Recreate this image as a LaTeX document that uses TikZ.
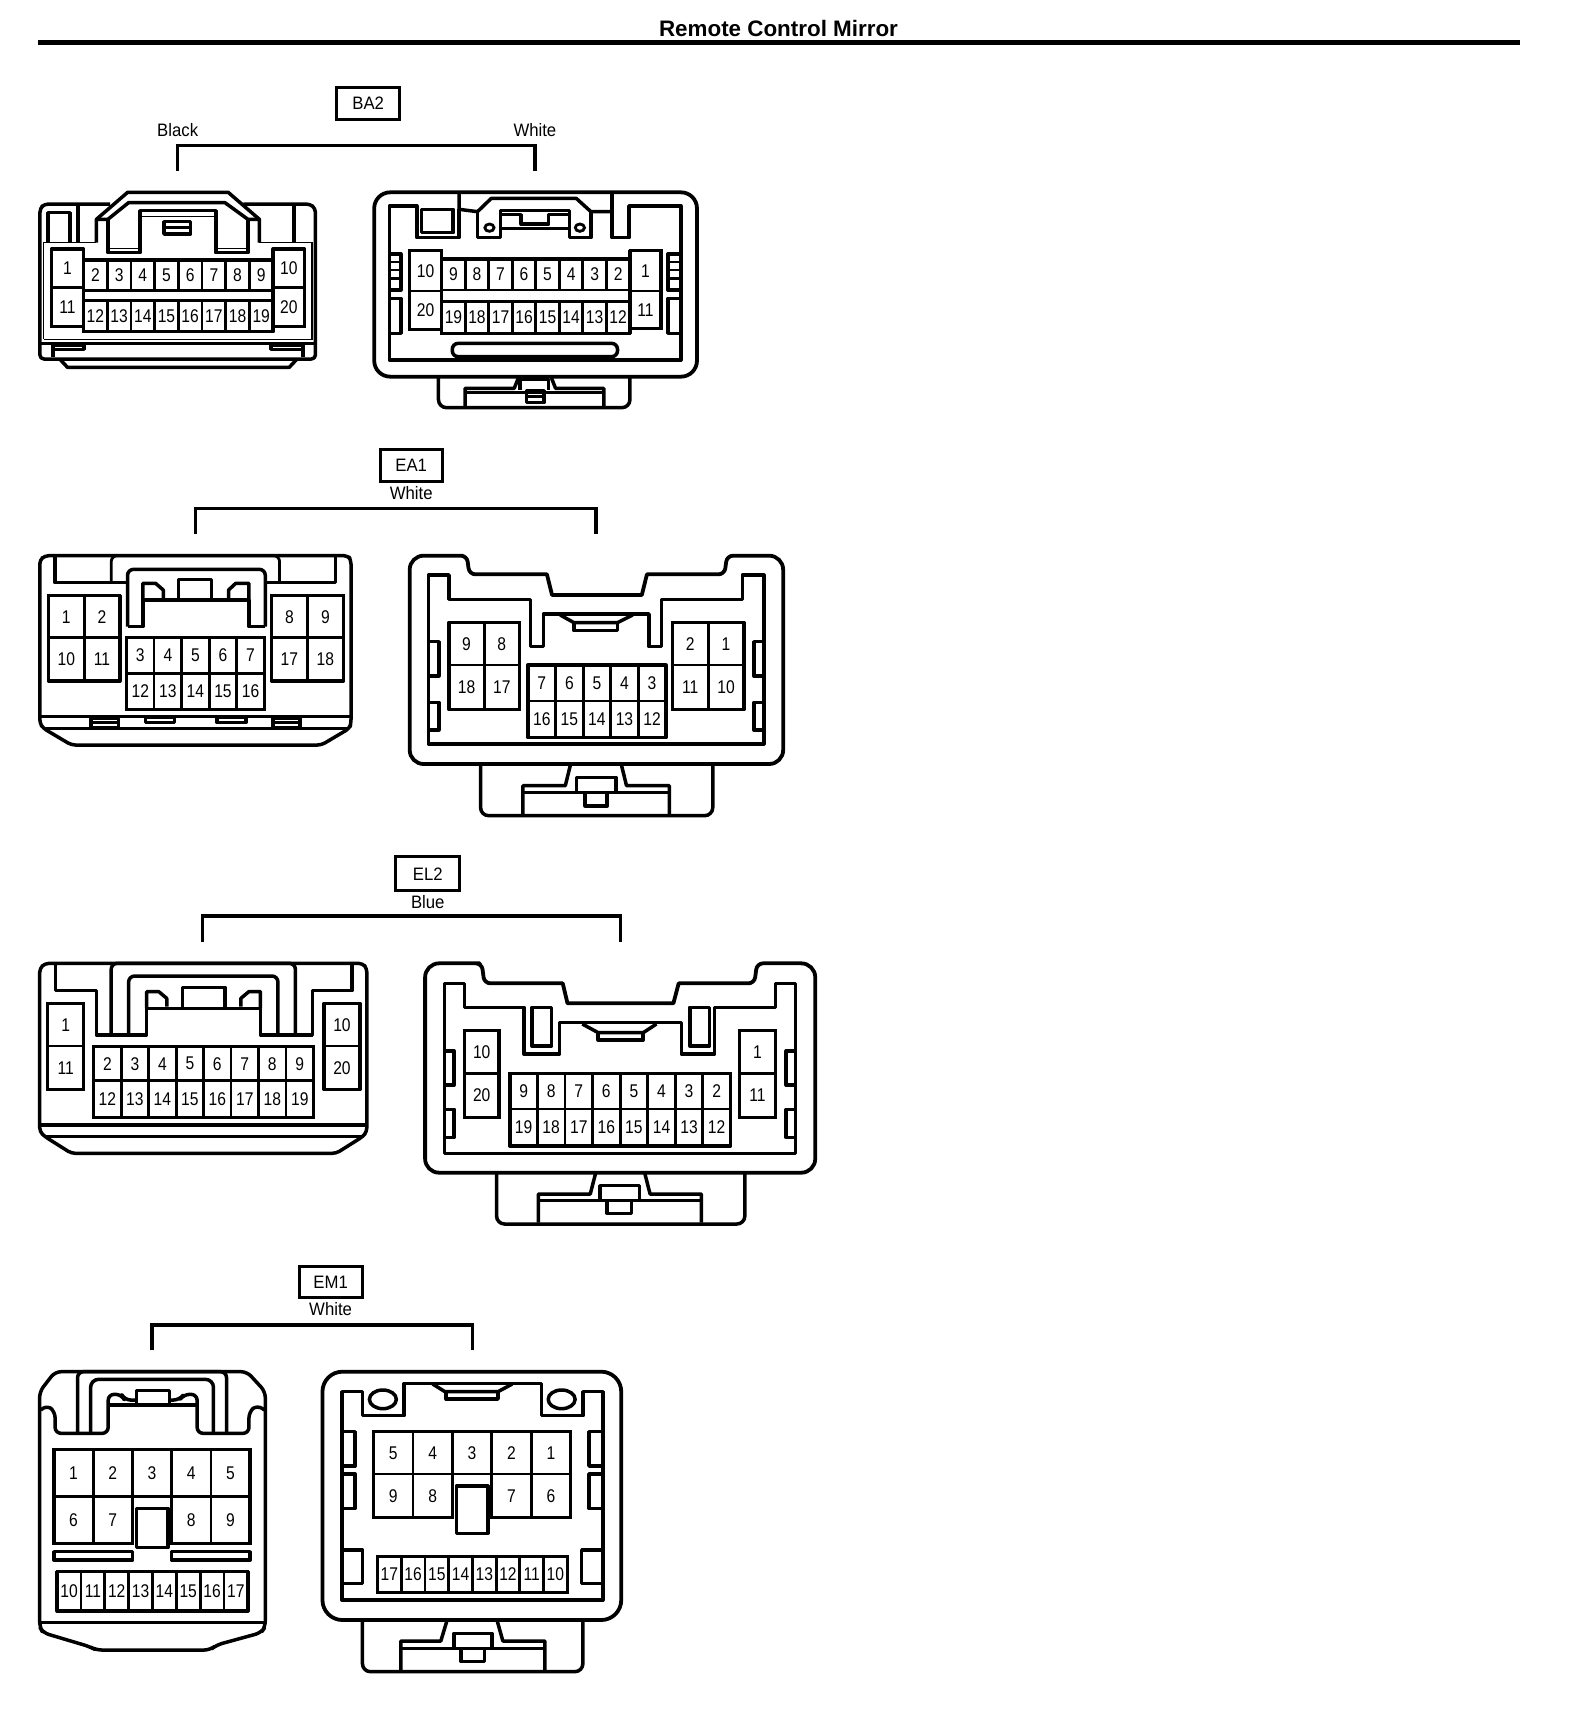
\documentclass[tikz,border=0pt]{standalone}
\usepackage{fontspec}
\setmainfont{Liberation Sans}
\tikzset{
  wall/.style={line width=1.75pt,line join=round},
  rim/.style={line width=1.9pt,line join=round},
  fine/.style={line width=0.8pt},
  cell/.style={line width=1.4pt},
  bracket/.style={line width=1.7pt},
  tagbox/.style={line width=1.5pt},
  numlab/.style={font=\fontsize{9.2}{9}\selectfont,inner sep=0pt,xscale=.85,transform shape},
  textlab/.style={font=\fontsize{9}{9}\selectfont,inner sep=0pt,xscale=.93,transform shape},
  rowba/.style={x=0.22957pt,y=-0.16667pt,yshift=-30pt},
  rowea/.style={x=0.2551pt,y=-0.16667pt,yshift=-220pt},
  rowel/.style={x=0.26469pt,y=-0.16667pt,yshift=-425pt},
  rowem/.style={x=0.20408pt,y=-0.16667pt,yshift=-630pt},
}
% name, left, cell width, top, bottom, labels
\newcommand{\pinrow}[6]{%
  \foreach \lab [count=\n from 0] in {#6} {
    \draw[cell] ({#2+\n*#3},#4) rectangle ({#2+(\n+1)*#3},#5);
    \node[numlab] (#1-\lab) at ({#2+(\n+.5)*#3},{(#4+#5)/2}) {\lab};
  }}
\begin{document}
\begin{tikzpicture}[x=0.5pt,y=-0.5pt]
  \useasboundingbox (0,0) rectangle (1568,1712);
  \node[inner sep=0pt,font=\fontsize{11.2}{12}\selectfont\bfseries] (title) at (778.5,28) {Remote Control Mirror};
  \coordinate (rulel) at (38,42.5);
  \coordinate (ruler) at (1519.5,42.5);
  \draw[line width=2.2pt] (rulel) -- (ruler);

  % BA2
  \begin{scope}[rowba]
    \node[textlab] (ba2) at (802,131) {BA2};
    \draw[tagbox] (733,82) rectangle (870,180);
    \node[textlab] (black) at (387,211) {Black};
    \node[textlab] (whiteba) at (1165,211) {White};
    \coordinate (ba2l) at (386,332);
    \coordinate (ba2r) at (1165,332);
    \draw[bracket] (ba2l) -- (386,257) -- (1165,257) -- (ba2r);
    % black housing
    \draw[wall,rounded corners=2pt] (240,432) -- (97,432) -- (87,445) -- (87,897) -- (687,897) -- (687,445) -- (675,432) -- (530,432);
    \draw[wall] (87,850) -- (687,850);
    \draw[wall] (115,890) -- (115,855) -- (183,855) -- (183,868) -- (115,868);
    \draw[wall] (660,890) -- (660,855) -- (590,855) -- (590,868) -- (660,868);
    \draw[wall] (130,897) -- (147,922) -- (630,922) -- (647,897);
    \draw[fine] (95,838) -- (95,548) -- (210,548);
    \draw[fine] (565,548) -- (680,548) -- (680,838) -- (95,838);
    \draw[wall] (105,548) -- (105,458) -- (152,458) -- (152,548);
    \draw[wall] (170,432) -- (170,548);
    \draw[wall] (640,432) -- (640,548);
    \draw[wall] (210,548) -- (210,478) -- (278,397) -- (497,397) -- (565,478) -- (565,548);
    \draw[wall] (210,478) -- (235,478) -- (280,428) -- (490,428) -- (540,478) -- (565,478);
    \draw[wall] (235,478) -- (235,578) -- (305,578) -- (305,452) -- (470,452) -- (470,578) -- (540,578) -- (540,478);
    \draw[fine] (235,565) -- (305,565);
    \draw[fine] (470,565) -- (540,565);
    \draw[fine] (305,470) -- (470,470);
    \draw[wall] (357,485) rectangle (415,522);
    \draw[wall] (357,502) -- (415,502);
    \pinrow{bl}{112}{70}{567}{683}{1}
    \pinrow{bl}{112}{70}{683}{800}{11}
    \pinrow{bl}{595}{68}{567}{683}{10}
    \pinrow{bl}{595}{68}{683}{800}{20}
    \pinrow{bl}{182}{51.6}{600}{692}{2,3,4,5,6,7,8,9}
    \pinrow{bl}{182}{51.6}{722}{815}{12,13,14,15,16,17,18,19}
    \draw[wall] (182,600) rectangle (595,815);
    \draw[wall] (112,567) rectangle (182,800);
    \draw[wall] (595,567) rectangle (663,800);
    % white housing
    \draw[rim,rounded corners=8pt] (815,397) rectangle (1518,950);
    \draw[wall] (1000,397) -- (1000,448) -- (1040,455) -- (1070,415) -- (1255,415) -- (1287,455) -- (1333,455);
    \draw[wall] (1333,397) -- (1333,533) -- (1370,533) -- (1370,438) -- (1483,438) -- (1483,900) -- (848,900) -- (848,438) -- (908,438) -- (908,533) -- (1000,533) -- (1000,448);
    \draw[wall] (918,448) rectangle (987,518);
    \draw[wall] (1040,455) -- (1040,533) -- (1090,533) -- (1090,452) -- (1240,452) -- (1240,533) -- (1287,533) -- (1287,455);
    \draw[wall] (1090,505) -- (1240,505);
    \draw[wall] (1090,464) -- (1135,464) -- (1135,492) -- (1195,492) -- (1195,464) -- (1240,464);
    \draw[cell] (1066,503) circle [x radius=10,y radius=11];
    \draw[cell] (1263,503) circle [x radius=10,y radius=11];
    \draw[wall] (848,582) -- (873,582) -- (873,690) -- (848,690);
    \draw[cell] (848,606) -- (873,606) (848,630) -- (873,630) (848,655) -- (873,655);
    \draw[wall] (848,715) -- (873,715) -- (873,820) -- (848,820);
    \draw[wall] (1483,582) -- (1455,582) -- (1455,690) -- (1483,690);
    \draw[cell] (1455,606) -- (1483,606) (1455,630) -- (1483,630) (1455,655) -- (1483,655);
    \draw[wall] (1483,715) -- (1455,715) -- (1455,820) -- (1483,820);
    \pinrow{wh}{892}{70}{572}{693}{10}
    \pinrow{wh}{892}{70}{693}{808}{20}
    \pinrow{wh}{1372}{68}{572}{693}{1}
    \pinrow{wh}{1372}{68}{693}{805}{11}
    \pinrow{wh}{962}{51.25}{597}{690}{9,8,7,6,5,4,3,2}
    \pinrow{wh}{962}{51.25}{725}{820}{19,18,17,16,15,14,13,12}
    \draw[wall] (962,597) rectangle (1372,820);
    \draw[wall] (892,572) rectangle (962,808);
    \draw[wall] (1372,572) rectangle (1440,805);
    \draw[wall,rounded corners=3pt] (985,850) rectangle (1345,890);
    \draw[wall,rounded corners=4pt] (955,950) -- (955,1043) -- (1372,1043) -- (1372,950);
    \draw[wall] (1013,1040) -- (1013,985) -- (1120,985) -- (1130,950);
    \draw[wall] (1315,1040) -- (1315,985) -- (1210,985) -- (1200,950);
    \draw[cell] (1013,997) -- (1315,997);
    \draw[wall] (1132,990) -- (1132,958) -- (1195,958) -- (1195,990);
    \draw[wall] (1147,992) rectangle (1185,1028);
    \draw[cell] (1147,1010) -- (1185,1010);
  \end{scope}

  % EA1
  \begin{scope}[rowea]
    \node[textlab] (ea1) at (806,77) {EA1};
    \draw[tagbox] (745,27) rectangle (868,125);
    \node[textlab] (whiteea) at (806,160) {White};
    \coordinate (ea1l) at (383,282);
    \coordinate (ea1r) at (1168,282);
    \draw[bracket] (ea1l) -- (383,205) -- (1168,205) -- (ea1r);
    % plug
    \draw[wall,rounded corners=2pt] (88,347) -- (682,347) -- (688,360) -- (688,850) -- (685,865) -- (630,915) -- (140,915) -- (85,865) -- (78,850) -- (78,360) -- cycle;
    \draw[wall] (78,830) -- (688,830);
    \draw[wall] (85,865) -- (685,865);
    \draw[wall] (108,350) -- (108,428) -- (250,428);
    \draw[wall] (658,350) -- (658,428) -- (520,428);
    \draw[cell,rounded corners=3pt] (218,428) -- (218,347) -- (548,347) -- (548,428);
    \draw[wall,rounded corners=3pt] (250,560) -- (250,388) -- (520,388) -- (520,560);
    \draw[wall] (250,560) -- (280,560) -- (280,480) -- (488,480) -- (488,560) -- (520,560);
    \draw[wall] (280,480) -- (280,430) -- (305,430) -- (320,450) -- (320,475);
    \draw[wall] (488,480) -- (488,430) -- (462,430) -- (448,450) -- (448,475);
    \draw[wall] (350,475) -- (350,418) -- (415,418) -- (415,475);
    \pinrow{pa}{95}{70}{467}{593}{1,2}
    \pinrow{pa}{95}{70}{593}{723}{10,11}
    \pinrow{pa}{532}{70.5}{467}{593}{8,9}
    \pinrow{pa}{532}{70.5}{593}{723}{17,18}
    \pinrow{pa}{248}{54}{592}{700}{3,4,5,6,7}
    \pinrow{pa}{248}{54}{700}{808}{12,13,14,15,16}
    \draw[wall] (95,467) rectangle (235,723);
    \draw[wall] (532,467) rectangle (673,723);
    \draw[wall] (248,592) rectangle (518,808);
    \draw[wall] (178,835) rectangle (232,862);
    \draw[cell] (178,848) -- (232,848);
    \draw[wall] (535,835) rectangle (588,862);
    \draw[cell] (535,848) -- (588,848);
    \draw[wall] (285,833) rectangle (342,847);
    \draw[wall] (425,833) rectangle (482,847);
    % socket
    \draw[rim] [rounded corners=7pt] (803,660) -- (803,347) -- (880,347) [rounded corners=3pt] -- (915,347) -- (920,403) [sharp corners] -- (1072,403) -- (1082,465) -- (1258,465) -- (1268,403) [rounded corners=3pt] -- (1420,403) -- (1425,347) [rounded corners=7pt] -- (1535,347) -- (1535,972) -- (803,972) -- cycle;
    \draw[wall] (840,912) -- (840,405) -- (880,405) -- (880,478) -- (1040,478) -- (1040,620) -- (1065,620) -- (1065,522) -- (1272,522) -- (1272,620) -- (1297,620) -- (1297,478) -- (1455,478) -- (1455,405) -- (1497,405) -- (1497,912) -- cycle;
    \draw[wall] (1098,525) -- (1125,548) -- (1210,548) -- (1240,525);
    \draw[wall] (1125,548) -- (1125,572) -- (1210,572) -- (1210,548);
    \pinrow{so}{880}{69}{547}{675}{9,8}
    \pinrow{so}{880}{69}{675}{808}{18,17}
    \pinrow{so}{1318}{70}{547}{675}{2,1}
    \pinrow{so}{1318}{70}{675}{808}{11,10}
    \pinrow{so}{1035}{54}{675}{783}{7,6,5,4,3}
    \pinrow{so}{1035}{54}{783}{893}{16,15,14,13,12}
    \draw[wall] (880,547) rectangle (1018,808);
    \draw[wall] (1318,547) rectangle (1458,808);
    \draw[wall] (1035,675) rectangle (1305,893);
    \draw[wall] (840,605) -- (860,605) -- (860,708) -- (840,708);
    \draw[wall] (840,787) -- (860,787) -- (860,870) -- (840,870);
    \draw[wall] (1497,605) -- (1478,605) -- (1478,708) -- (1497,708);
    \draw[wall] (1497,787) -- (1478,787) -- (1478,870) -- (1497,870);
    \draw[wall,rounded corners=4pt] (942,975) -- (942,1127) -- (1397,1127) -- (1397,975);
    \draw[wall] (1025,1125) -- (1025,1037) -- (1108,1037) -- (1118,975);
    \draw[wall] (1312,1125) -- (1312,1037) -- (1228,1037) -- (1218,975);
    \draw[cell] (1025,1058) -- (1312,1058);
    \draw[wall] (1130,1012) rectangle (1207,1058);
    \draw[wall] (1147,1058) rectangle (1190,1098);
  \end{scope}

  % EL2
  \begin{scope}[rowel]
    \node[textlab] (el2) at (808,72) {EL2};
    \draw[tagbox] (747,20) rectangle (868,120);
    \node[textlab] (blue) at (808,155) {Blue};
    \coordinate (el2l) at (383,277);
    \coordinate (el2r) at (1172,277);
    \draw[bracket] (el2l) -- (383,198) -- (1172,198) -- (el2r);
    % plug
    \draw[wall,rounded corners=2pt] (85,340) -- (685,340) -- (693,355) -- (693,845) -- (685,860) -- (635,910) -- (135,910) -- (85,860) -- (75,845) -- (75,355) -- cycle;
    \draw[wall] (75,825) -- (693,825);
    \draw[wall] (85,860) -- (685,860);
    \draw[wall] (105,345) -- (105,422) -- (182,422) -- (182,555) -- (277,555) -- (277,475) -- (492,475) -- (492,555) -- (590,555) -- (590,422) -- (665,422) -- (665,345);
    \draw[wall,rounded corners=3pt] (210,555) -- (210,340) -- (558,340) -- (558,555);
    \draw[wall,rounded corners=3pt] (243,555) -- (243,378) -- (525,378) -- (525,555);
    \draw[wall] (277,475) -- (277,425) -- (300,425) -- (315,445) -- (315,470);
    \draw[wall] (492,475) -- (492,425) -- (470,425) -- (455,445) -- (455,470);
    \draw[wall] (345,470) -- (345,412) -- (425,412) -- (425,470);
    \pinrow{ps}{90}{68}{460}{588}{1}
    \pinrow{ps}{90}{68}{588}{718}{11}
    \pinrow{ps}{612}{68}{460}{588}{10}
    \pinrow{ps}{612}{68}{588}{718}{20}
    \pinrow{ps}{177}{51.9}{590}{692}{2,3,4,5,6,7,8,9}
    \pinrow{ps}{177}{51.9}{692}{803}{12,13,14,15,16,17,18,19}
    \draw[wall] (90,460) rectangle (158,718);
    \draw[wall] (612,460) rectangle (680,718);
    \draw[wall] (177,590) rectangle (592,803);
    % socket
    \draw[rim] [rounded corners=7pt] (803,660) -- (803,340) -- (880,340) [rounded corners=3pt] -- (910,340) -- (915,400) [sharp corners] -- (1063,400) -- (1072,460) -- (1272,460) -- (1282,400) [rounded corners=3pt] -- (1425,400) -- (1430,340) [rounded corners=7pt] -- (1540,340) -- (1540,968) -- (803,968) -- cycle;
    \draw[wall] (840,910) -- (840,400) -- (877,400) -- (877,472) -- (990,472) -- (990,612) -- (1057,612) -- (1057,518) -- (1287,518) -- (1287,612) -- (1350,612) -- (1350,472) -- (1465,472) -- (1465,400) -- (1503,400) -- (1503,910) -- cycle;
    \draw[wall] (1005,472) rectangle (1042,588);
    \draw[wall] (1303,472) rectangle (1340,588);
    \draw[wall] (1100,522) -- (1130,548) -- (1215,548) -- (1240,522);
    \draw[wall] (1130,548) -- (1130,570) -- (1215,570) -- (1215,548);
    \pinrow{tr}{877}{66}{542}{670}{10}
    \pinrow{tr}{877}{66}{670}{803}{20}
    \pinrow{tr}{1397}{68}{542}{670}{1}
    \pinrow{tr}{1397}{68}{670}{803}{11}
    \pinrow{tr}{963}{52.1}{670}{777}{9,8,7,6,5,4,3,2}
    \pinrow{tr}{963}{52.1}{777}{888}{19,18,17,16,15,14,13,12}
    \draw[wall] (877,542) rectangle (943,803);
    \draw[wall] (1397,542) rectangle (1465,803);
    \draw[wall] (963,670) rectangle (1380,888);
    \draw[wall] (840,603) -- (858,603) -- (858,705) -- (840,705);
    \draw[wall] (840,778) -- (858,778) -- (858,862) -- (840,862);
    \draw[wall] (1503,603) -- (1485,603) -- (1485,705) -- (1503,705);
    \draw[wall] (1503,778) -- (1485,778) -- (1485,862) -- (1503,862);
    \draw[wall,rounded corners=4pt] (938,968) -- (938,1122) -- (1407,1122) -- (1407,968);
    \draw[wall] (1017,1118) -- (1017,1032) -- (1115,1032) -- (1125,970);
    \draw[wall] (1325,1118) -- (1325,1032) -- (1228,1032) -- (1218,970);
    \draw[cell] (1017,1052) -- (1325,1052);
    \draw[wall] (1133,1007) rectangle (1208,1052);
    \draw[wall] (1147,1052) rectangle (1193,1090);
  \end{scope}

  % EM1
  \begin{scope}[rowem]
    \node[textlab] (em1) at (810,66) {EM1};
    \draw[tagbox] (733,18) rectangle (888,113);
    \node[textlab] (whiteem) at (810,148) {White};
    \coordinate (em1l) at (372,270);
    \coordinate (em1r) at (1157,270);
    \draw[bracket] (em1l) -- (372,195) -- (1157,195) -- (em1r);
    % plug
    \draw[wall,rounded corners=3pt] (135,335) -- (605,335) -- (650,395) -- (650,1100) -- (640,1118) -- (530,1155) -- (515,1170) -- (235,1170) -- (220,1160) -- (105,1118) -- (97,1100) -- (97,395) -- cycle;
    \draw[wall] (97,1087) -- (650,1087);
    \draw[wall,rounded corners=3pt] (100,450) -- (115,435) -- (135,455) -- (135,520) -- (265,520) -- (265,403) -- (298,403) -- (305,420) -- (335,420);
    \draw[wall,rounded corners=3pt] (648,450) -- (630,435) -- (610,455) -- (610,520) -- (483,520) -- (483,403) -- (450,403) -- (440,420) -- (415,420);
    \draw[wall] (265,435) -- (483,435);
    \draw[wall,rounded corners=3pt] (190,520) -- (190,335) -- (555,335) -- (555,520);
    \draw[wall,rounded corners=4pt] (222,520) -- (222,358) -- (523,358) -- (523,520);
    \draw[wall] (335,435) -- (335,392) -- (415,392) -- (415,435);
    \pinrow{ch}{132}{96.2}{568}{710}{1,2,3,4,5}
    \pinrow{ch}{132}{96.2}{710}{850}{6,7}
    \pinrow{ch}{420.6}{96.2}{710}{850}{8,9}
    \draw[wall] (132,568) -- (613,568) -- (613,850) -- (420,850);
    \draw[wall] (132,568) -- (132,850) -- (325,850);
    \draw[wall] (335,745) rectangle (412,862);
    \draw[wall] (132,875) rectangle (325,900);
    \draw[wall] (420,875) rectangle (613,900);
    \pinrow{ch}{140}{58.4}{935}{1053}{10,11,12,13,14,15,16,17}
    \draw[wall] (140,935) rectangle (607,1053);
    % socket
    \draw[rim,rounded corners=10pt] (790,335) rectangle (1522,1080);
    \draw[wall] (838,1020) -- (838,395) -- (888,395) -- (888,467) -- (990,467) -- (990,370) -- (1327,370) -- (1327,467) -- (1428,467) -- (1428,395) -- (1477,395) -- (1477,1020) -- cycle;
    \draw[wall] (1060,372) -- (1090,395) -- (1220,395) -- (1255,372);
    \draw[wall] (1093,395) -- (1093,417) -- (1220,417) -- (1220,395);
    \draw[wall] (938,418) ellipse [x radius=33,y radius=28];
    \draw[wall] (1376,418) ellipse [x radius=33,y radius=28];
    \pinrow{sk}{915}{96.6}{515}{642}{5,4,3,2,1}
    \pinrow{sk}{915}{96.6}{642}{772}{9,8}
    \pinrow{sk}{1204.8}{96.6}{642}{772}{7,6}
    \draw[wall] (915,515) -- (1398,515) -- (1398,772) -- (1205,772);
    \draw[wall] (915,515) -- (915,772) -- (1110,772);
    \draw[wall] (1118,678) rectangle (1195,820);
    \draw[wall] (838,515) -- (870,515) -- (870,618) -- (838,618);
    \draw[wall] (838,642) -- (870,642) -- (870,745) -- (838,745);
    \draw[wall] (1477,515) -- (1443,515) -- (1443,618) -- (1477,618);
    \draw[wall] (1477,642) -- (1443,642) -- (1443,745) -- (1477,745);
    \draw[wall] (838,870) -- (888,870) -- (888,970) -- (838,970);
    \draw[wall] (1477,870) -- (1425,870) -- (1425,970) -- (1477,970);
    \pinrow{sk}{925}{58.1}{890}{997}{17,16,15,14,13,12,11,10}
    \draw[wall] (925,890) rectangle (1390,997);
    \draw[wall,rounded corners=4pt] (888,1082) -- (888,1235) -- (1428,1235) -- (1428,1082);
    \draw[wall] (982,1232) -- (982,1143) -- (1080,1143) -- (1095,1082);
    \draw[wall] (1335,1232) -- (1335,1143) -- (1232,1143) -- (1218,1082);
    \draw[cell] (982,1165) -- (1335,1165);
    \draw[wall] (1112,1120) rectangle (1205,1165);
    \draw[wall] (1130,1165) rectangle (1187,1205);
  \end{scope}
\end{tikzpicture}
\end{document}
